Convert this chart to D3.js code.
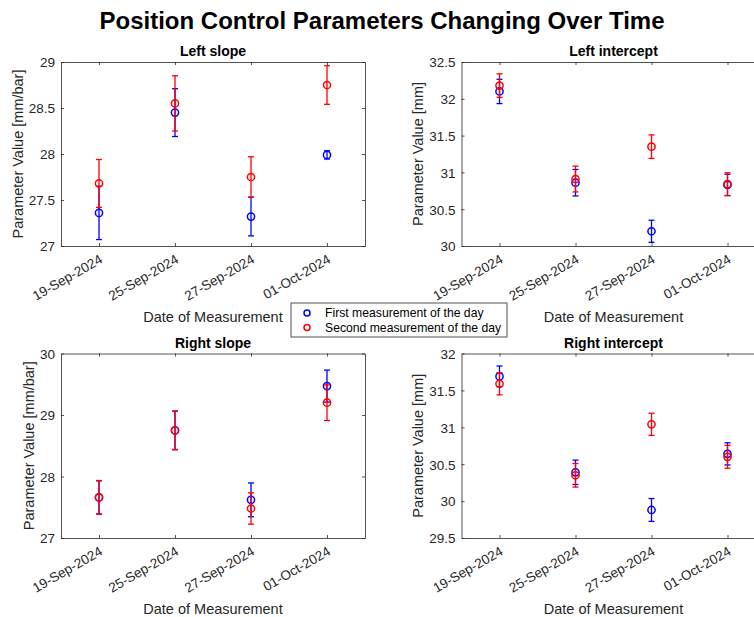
<!DOCTYPE html>
<html>
<head>
<meta charset="utf-8">
<script src="https://cdn.jsdelivr.net/npm/d3@7/dist/d3.min.js"></script>
<style>
  html, body { margin: 0; padding: 0; background: #ffffff; }
  svg { display: block; font-family: "Liberation Sans", Arial, sans-serif; }
</style>
</head>
<body>
<svg id="chart" width="754" height="617"></svg>
<script>
// Measurement dates (categorical x axis)
const dates = ["19-Sep-2024", "25-Sep-2024", "27-Sep-2024", "01-Oct-2024"];

// Left slope [mm/bar]
const leftSlopeFirst = [27.36, 28.45, 27.32, 27.99];
const leftSlopeFirstErr = [0.29, 0.26, 0.21, 0.045];
const leftSlopeSecond = [27.68, 28.55, 27.75, 28.75];
const leftSlopeSecondErr = [0.26, 0.30, 0.22, 0.21];

// Left intercept [mm]
const leftInterceptFirst = [32.10, 30.86, 30.20, 30.83];
const leftInterceptFirstErr = [0.165, 0.18, 0.15, 0.145];
const leftInterceptSecond = [32.18, 30.91, 31.35, 30.84];
const leftInterceptSecondErr = [0.16, 0.175, 0.16, 0.155];

// Right slope [mm/bar]
const rightSlopeFirst = [27.66, 28.75, 27.62, 29.47];
const rightSlopeFirstErr = [0.27, 0.315, 0.275, 0.26];
const rightSlopeSecond = [27.66, 28.75, 27.48, 29.20];
const rightSlopeSecondErr = [0.275, 0.31, 0.255, 0.29];

// Right intercept [mm]
const rightInterceptFirst = [31.69, 30.39, 29.88, 30.64];
const rightInterceptFirstErr = [0.14, 0.165, 0.155, 0.15];
const rightInterceptSecond = [31.59, 30.35, 31.04, 30.60];
const rightInterceptSecondErr = [0.15, 0.16, 0.15, 0.155];

// Y tick values for each panel
const leftSlopeTicks = [27, 27.5, 28, 28.5, 29];
const leftInterceptTicks = [30, 30.5, 31, 31.5, 32, 32.5];
const rightSlopeTicks = [27, 28, 29, 30];
const rightInterceptTicks = [29.5, 30, 30.5, 31, 31.5, 32];

const seriesNames = ["First measurement of the day", "Second measurement of the day"];
const seriesColors = ["#0000ff", "#ff0000"];

const panels = [
  { title: "Left slope", ylabel: "Parameter Value [mm/bar]", ticks: leftSlopeTicks,
    series: [[leftSlopeFirst, leftSlopeFirstErr], [leftSlopeSecond, leftSlopeSecondErr]],
    box: [61, 365, 62, 246] },
  { title: "Left intercept", ylabel: "Parameter Value [mm]", ticks: leftInterceptTicks,
    series: [[leftInterceptFirst, leftInterceptFirstErr], [leftInterceptSecond, leftInterceptSecondErr]],
    box: [461.5, 765.5, 62, 246] },
  { title: "Right slope", ylabel: "Parameter Value [mm/bar]", ticks: rightSlopeTicks,
    series: [[rightSlopeFirst, rightSlopeFirstErr], [rightSlopeSecond, rightSlopeSecondErr]],
    box: [61, 365, 353.5, 538] },
  { title: "Right intercept", ylabel: "Parameter Value [mm]", ticks: rightInterceptTicks,
    series: [[rightInterceptFirst, rightInterceptFirstErr], [rightInterceptSecond, rightInterceptSecondErr]],
    box: [461.5, 765.5, 353.5, 538] }
];

const svg = d3.select("#chart");
const axisColor = "#262626";

svg.append("text")
  .attr("x", 382).attr("y", 29)
  .attr("text-anchor", "middle")
  .attr("font-size", 24).attr("font-weight", "bold")
  .attr("fill", "#000")
  .text("Position Control Parameters Changing Over Time");

const fmt = d => String(+d.toFixed(2));

panels.forEach(p => {
  const [x0, x1, y0, y1] = p.box;
  const x = d3.scalePoint().domain(dates).range([x0, x1]).padding(0.5);
  const y = d3.scaleLinear().domain(d3.extent(p.ticks)).range([y1, y0]);
  const g = svg.append("g");

  // Box axes with inward ticks on all four sides
  const styleAxis = sel => {
    sel.selectAll("path.domain").attr("stroke", axisColor).attr("stroke-width", 0.8);
    sel.selectAll(".tick line").attr("stroke", axisColor).attr("stroke-width", 0.8);
    sel.selectAll("text").attr("fill", axisColor).attr("font-size", 13.5)
      .attr("font-family", "Liberation Sans, Arial, sans-serif");
  };

  const left = g.append("g").attr("transform", `translate(${x0},0)`)
    .call(d3.axisLeft(y).tickValues(p.ticks).tickFormat(fmt).tickSize(-3).tickSizeOuter(0).tickPadding(6))
    .call(styleAxis);
  g.append("g").attr("transform", `translate(${x1},0)`)
    .call(d3.axisRight(y).tickValues(p.ticks).tickFormat("").tickSize(-3).tickSizeOuter(0))
    .call(styleAxis);
  const bottom = g.append("g").attr("transform", `translate(0,${y1})`)
    .call(d3.axisBottom(x).tickSize(-3).tickSizeOuter(0))
    .call(styleAxis);
  g.append("g").attr("transform", `translate(0,${y0})`)
    .call(d3.axisTop(x).tickFormat("").tickSize(-3).tickSizeOuter(0))
    .call(styleAxis);
  left.selectAll(".tick text").attr("dy", "0.36em");

  // Rotated date labels
  bottom.selectAll(".tick text")
    .attr("text-anchor", "end")
    .attr("dy", null)
    .attr("y", 0)
    .attr("transform", "translate(4,16) rotate(-30)");

  // Panel title
  g.append("text")
    .attr("x", (x0 + x1) / 2).attr("y", y0 - 6)
    .attr("text-anchor", "middle")
    .attr("font-size", 14).attr("font-weight", "bold").attr("fill", "#000")
    .text(p.title);

  // X axis label
  g.append("text")
    .attr("x", (x0 + x1) / 2).attr("y", y1 + 76)
    .attr("text-anchor", "middle")
    .attr("font-size", 14.5).attr("fill", axisColor)
    .text("Date of Measurement");

  // Y axis label placed beyond the widest tick label
  let maxW = 0;
  left.selectAll(".tick text").each(function () {
    maxW = Math.max(maxW, this.getComputedTextLength());
  });
  const ly = x0 - 6 - maxW - 6;
  g.append("text")
    .attr("transform", `translate(${ly},${(y0 + y1) / 2}) rotate(-90)`)
    .attr("text-anchor", "middle")
    .attr("font-size", 14.5).attr("fill", axisColor)
    .text(p.ylabel);

  // Error bars and markers
  p.series.forEach(([vals, errs], si) => {
    const color = seriesColors[si];
    const sg = g.append("g").attr("stroke", color).attr("fill", "none").attr("stroke-width", 1.3);
    const pts = dates.map((d, i) => ({ d, v: vals[i], e: errs[i] }));
    sg.selectAll("line.bar").data(pts).join("line")
      .attr("x1", d => x(d.d)).attr("x2", d => x(d.d))
      .attr("y1", d => y(d.v - d.e)).attr("y2", d => y(d.v + d.e));
    sg.selectAll("line.capTop").data(pts).join("line")
      .attr("x1", d => x(d.d) - 3).attr("x2", d => x(d.d) + 3)
      .attr("y1", d => y(d.v + d.e)).attr("y2", d => y(d.v + d.e));
    sg.selectAll("line.capBot").data(pts).join("line")
      .attr("x1", d => x(d.d) - 3).attr("x2", d => x(d.d) + 3)
      .attr("y1", d => y(d.v - d.e)).attr("y2", d => y(d.v - d.e));
    sg.selectAll("circle").data(pts).join("circle")
      .attr("cx", d => x(d.d)).attr("cy", d => y(d.v)).attr("r", 3.6)
      .attr("stroke-width", 1.5);
  });
});

// Legend
const lg = svg.append("g").attr("transform", "translate(291,303)");
lg.append("rect").attr("x", 0).attr("y", 0).attr("width", 216).attr("height", 34)
  .attr("fill", "#fff").attr("stroke", axisColor).attr("stroke-width", 0.8);
seriesNames.forEach((name, i) => {
  lg.append("circle").attr("cx", 16).attr("cy", 10 + i * 14.5).attr("r", 3)
    .attr("fill", "none").attr("stroke", seriesColors[i]).attr("stroke-width", 1.5);
  lg.append("text").attr("x", 34).attr("y", 10 + i * 14.5).attr("dy", "0.35em")
    .attr("font-size", 12.2).attr("fill", "#000").text(name);
});
</script>
</body>
</html>
